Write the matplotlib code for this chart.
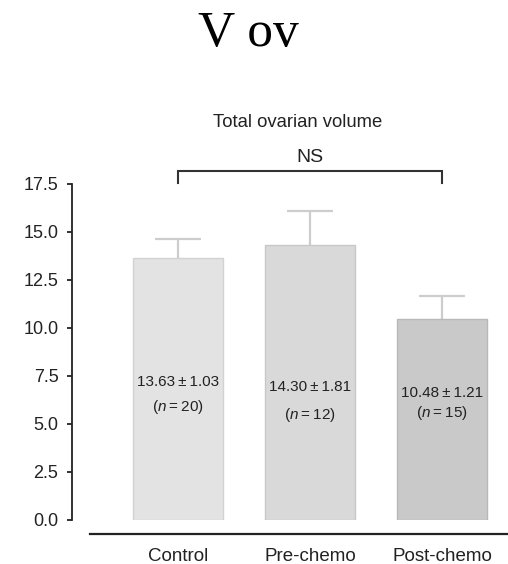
import matplotlib
matplotlib.use("Agg")
import matplotlib.pyplot as plt

groups = ["Control", "Pre-chemo", "Post-chemo"]
means = [13.63, 14.30, 10.48]
sems = [1.03, 1.81, 1.21]
ns = [20, 12, 15]
# where the value labels sit inside each bar (two lines: mean±sem, n)
label_y = [(7.19, 5.89), (6.93, 5.47), (6.61, 5.57)]
yticks = [0.0, 2.5, 5.0, 7.5, 10.0, 12.5, 15.0, 17.5]

face = ["#e3e3e3", "#d9d9d9", "#c9c9c9"]
edge = ["#d2d2d2", "#c8c8c8", "#b8b8b8"]

plt.rcParams["font.family"] = ["Liberation Sans", "DejaVu Sans"]
plt.rcParams["mathtext.fontset"] = "custom"
plt.rcParams["mathtext.it"] = "Liberation Sans:italic"
plt.rcParams["mathtext.rm"] = "Liberation Sans"

W, H = 508, 564
fig = plt.figure(figsize=(W / 100, H / 100), dpi=100)
ax = fig.add_axes([72 / W, 44 / H, 436 / W, 336 / H])

x = list(range(len(groups)))
ax.bar(x, means, width=0.68, color=face, edgecolor=edge, linewidth=1.0, zorder=2)

# upper-only error bars
tops = [m + s for m, s in zip(means, sems)]
cap = 0.175
ax.vlines(x, means, tops, color="#cdcdcd", lw=1.6, zorder=1)
ax.hlines(tops, [i - cap for i in x], [i + cap for i in x], color="#cdcdcd",
          lw=1.6, zorder=1)

for i in x:
    ax.text(i, label_y[i][0], f"{means[i]:.2f}\u2009\u00b1\u2009{sems[i]:.2f}",
            ha="center", va="center", fontsize=11, color="#222222", zorder=3)
    ax.text(i, label_y[i][1], f"($\\it{{n}}$\u2009=\u2009{ns[i]})", ha="center",
            va="center", fontsize=11, color="#222222", zorder=3)

ax.set_xlim(-0.803, 2.5)
ax.set_ylim(0, 17.5)
ax.set_yticks(yticks)
ax.set_yticklabels([f"{t:.1f}" for t in yticks])
ax.set_xticks(x)
ax.set_xticklabels(groups)

for s in ["top", "right"]:
    ax.spines[s].set_visible(False)
ax.spines["left"].set_linewidth(1.3)
ax.spines["left"].set_color("#222222")
ax.spines["bottom"].set_position(("outward", 10))
ax.spines["bottom"].set_bounds(-0.667, 2.5)
ax.spines["bottom"].set_linewidth(1.6)
ax.spines["bottom"].set_color("#222222")

ax.tick_params(axis="y", length=3.8, width=1.3, pad=6, labelsize=13,
               colors="#222222")
ax.tick_params(axis="x", length=0, pad=10, labelsize=13.5, colors="#222222")

# significance bracket between control and post-chemo
ax.plot([0, 0, 2, 2], [17.55, 18.18, 18.18, 17.55], color="#333333", lw=1.5,
        clip_on=False, solid_joinstyle="miter")
ax.text(1, 18.9, "NS", ha="center", va="center", fontsize=14, color="#222222")
ax.text(0.91, 20.68, "Total ovarian volume", ha="center", va="center",
        fontsize=13.3, color="#222222")

fig.text(248 / W, 1 - 34 / H, "V ov", ha="center", va="center", fontsize=37,
         family="Liberation Serif")

fig.savefig("out.png", dpi=100)
